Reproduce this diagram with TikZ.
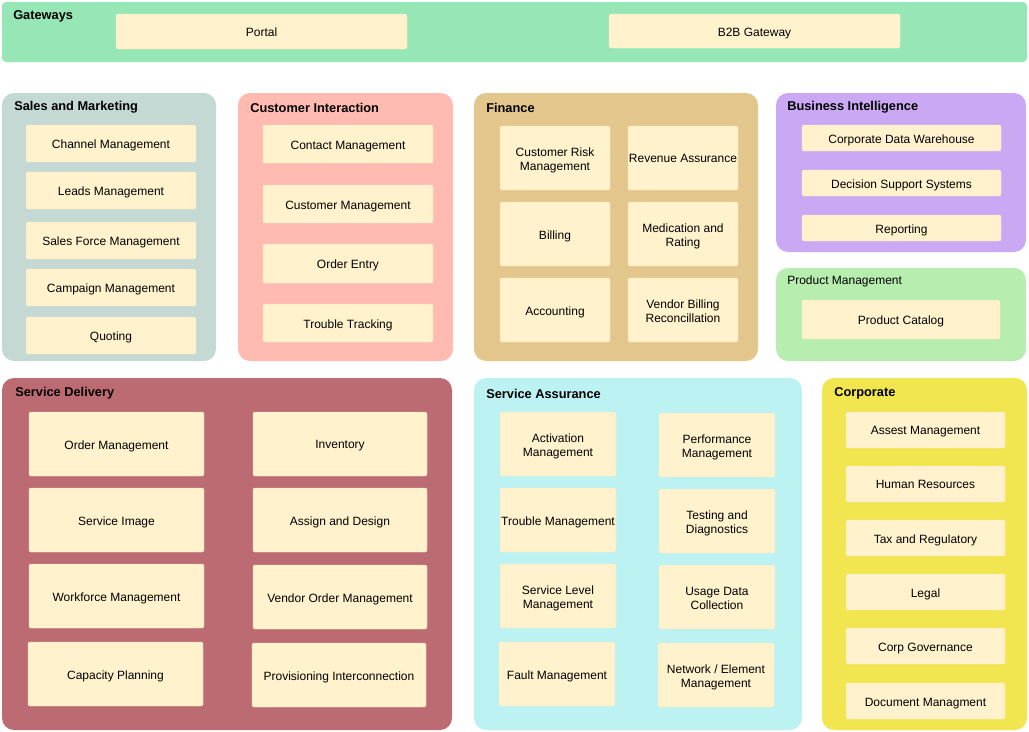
\documentclass[tikz,border=0pt]{standalone}
\usepackage{fontspec}
\setmainfont{Liberation Sans}
\usetikzlibrary{fit}
\definecolor{gwfill}{HTML}{97E6B5}
\definecolor{smfill}{HTML}{C5D9D4}
\definecolor{cifill}{HTML}{FFBBB1}
\definecolor{fifill}{HTML}{E3C68B}
\definecolor{bifill}{HTML}{CBA8F4}
\definecolor{pmfill}{HTML}{B8EDB0}
\definecolor{sdfill}{HTML}{BD6B72}
\definecolor{safill}{HTML}{BCF2F2}
\definecolor{cofill}{HTML}{F2E650}
\definecolor{itemfill}{HTML}{FFF2CC}
\definecolor{itemline}{HTML}{F7EAC6}
\tikzset{
  group/.style={rounded corners=9pt, inner sep=0pt, draw=none},
  itembox/.style={fill=itemfill, draw=itemline, line width=0.3pt, rounded corners=1.5pt, inner sep=0pt},
  itemlabel/.style={inner sep=0pt, align=center, text depth=0.5pt, font=\fontsize{9}{10.5}\selectfont},
  title/.style={anchor=west, inner sep=0pt, font=\bfseries\fontsize{9.6}{11}\selectfont},
  plaintitle/.style={anchor=west, inner sep=0pt, font=\fontsize{9}{11}\selectfont}
}
\newcommand\grp[6]{\node[group, fill=#6, fit={(#2,#3) (#4,#5)}] (#1) {};}
\newcommand\ibox[6]{%
  \node[itembox, minimum width={(#4-#2)*0.75pt}, minimum height={(#5-#3)*0.75pt}] (#1) at ({(#2+#4)/2},{(#3+#5)/2}) {};
  \node[itemlabel] (#1lbl) at ({(#2+#4)/2},{(#3+#5)/2+1.2}) {#6};}
\begin{document}
\begin{tikzpicture}[x=0.75pt,y=-0.75pt]
\useasboundingbox (0,0) rectangle (1029,732);
% Gateways
\node[group, rounded corners=3pt, fill=gwfill, fit={(2,2) (1027,62)}] (gw) {};
\node[title] (gwt) at (13,16.5) {Gateways};
\ibox{portal}{116}{14}{407}{49}{Portal}
\ibox{b2b}{609}{14}{900}{48}{B2B Gateway}
% Sales and Marketing
\grp{sm}{2}{93}{216}{361}{smfill}
\node[title] (smt) at (14,107.5) {Sales and Marketing};
\ibox{sm1}{26}{125}{196}{162}{Channel Management}
\ibox{sm2}{26}{172}{196}{209}{Leads Management}
\ibox{sm3}{26}{222}{196}{259}{Sales Force Management}
\ibox{sm4}{26}{269}{196}{306}{Campaign Management}
\ibox{sm5}{26}{317}{196}{354}{Quoting}
% Customer Interaction
\grp{ci}{238}{93}{453}{361}{cifill}
\node[title] (cit) at (250,107.5) {Customer Interaction};
\ibox{ci1}{263}{125}{433}{163}{Contact Management}
\ibox{ci2}{263}{185}{433}{223}{Customer Management}
\ibox{ci3}{263}{244}{433}{283}{Order Entry}
\ibox{ci4}{263}{304}{433}{342}{Trouble Tracking}
% Finance
\grp{fi}{474}{93}{758}{361}{fifill}
\node[title] (fit) at (486,107.5) {Finance};
\ibox{fi1}{500}{126}{610}{190}{Customer Risk\\Management}
\ibox{fi2}{628}{126}{738}{190}{Revenue Assurance}
\ibox{fi3}{500}{202}{610}{266}{Billing}
\ibox{fi4}{628}{202}{738}{266}{Medication and\\Rating}
\ibox{fi5}{500}{278}{610}{342}{Accounting}
\ibox{fi6}{628}{278}{738}{342}{Vendor Billing\\Reconcillation}
% Business Intelligence
\grp{bi}{776}{93}{1026}{252}{bifill}
\node[title] (bit) at (787,107.5) {Business Intelligence};
\ibox{bi1}{802}{125}{1001}{151}{Corporate Data Warehouse}
\ibox{bi2}{802}{170}{1001}{196}{Decision Support Systems}
\ibox{bi3}{802}{215}{1001}{241}{Reporting}
% Product Management
\grp{pm}{776}{268}{1026}{361}{pmfill}
\node[plaintitle] (pmt) at (787,281.5) {Product Management};
\ibox{pm1}{802}{300}{1000}{339}{Product Catalog}
% Service Delivery
\grp{sd}{2}{378}{452}{730}{sdfill}
\node[title] (sdt) at (15,393.5) {Service Delivery};
\ibox{sd1}{29}{412}{204}{476}{Order Management}
\ibox{sd2}{253}{412}{427}{476}{Inventory}
\ibox{sd3}{29}{488}{204}{552}{Service Image}
\ibox{sd4}{253}{488}{427}{552}{Assign and Design}
\ibox{sd5}{29}{564}{204}{628}{Workforce Management}
\ibox{sd6}{253}{565}{427}{629}{Vendor Order Management}
\ibox{sd7}{28}{642}{203}{706}{Capacity Planning}
\ibox{sd8}{252}{643}{426}{707}{Provisioning Interconnection}
% Service Assurance
\grp{sa}{474}{378}{802}{730}{safill}
\node[title] (sat) at (486,393.5) {Service Assurance};
\ibox{sa1}{500}{412}{616}{476}{Activation\\Management}
\ibox{sa2}{659}{413}{775}{477}{Performance\\Management}
\ibox{sa3}{500}{488}{616}{552}{Trouble Management}
\ibox{sa4}{659}{489}{775}{553}{Testing and\\Diagnostics}
\ibox{sa5}{500}{564}{616}{628}{Service Level\\Management}
\ibox{sa6}{659}{565}{775}{629}{Usage Data\\Collection}
\ibox{sa7}{499}{642}{615}{706}{Fault Management}
\ibox{sa8}{658}{643}{774}{707}{Network / Element\\Management}
% Corporate
\grp{co}{822}{378}{1027}{730}{cofill}
\node[title] (cot) at (834,393.5) {Corporate};
\ibox{co1}{846}{412}{1005}{448}{Assest Management}
\ibox{co2}{846}{466}{1005}{502}{Human Resources}
\ibox{co3}{846}{520}{1005}{556}{Tax and Regulatory}
\ibox{co4}{846}{574}{1005}{610}{Legal}
\ibox{co5}{846}{628}{1005}{664}{Corp Governance}
\ibox{co6}{846}{683}{1005}{719}{Document Managment}
\end{tikzpicture}
\end{document}
